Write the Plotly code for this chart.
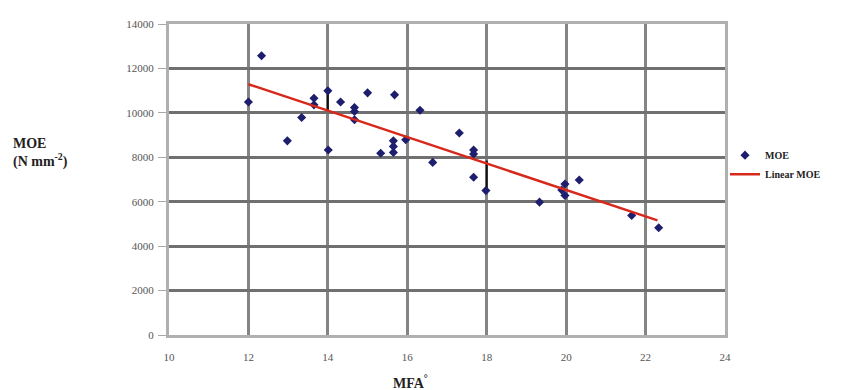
import plotly.graph_objects as go

# Data
mfa = [12.0, 12.33, 12.98, 13.34, 13.65, 13.65, 14.0, 14.01, 14.32, 14.67, 14.67, 14.67,
       15.0, 15.33, 15.65, 15.65, 15.65, 15.68, 15.96, 16.32, 16.64, 17.31, 17.67, 17.67,
       17.67, 17.98, 19.33, 19.89, 19.97, 19.97, 20.33, 21.65, 22.33]
moe = [10490, 12570, 8740, 9790, 10660, 10360, 10990, 8330, 10490, 10240, 10060, 9690,
       10900, 8180, 8740, 8490, 8220, 10810, 8790, 10120, 7770, 9090, 8330, 8150,
       7100, 6500, 5980, 6530, 6800, 6280, 6980, 5380, 4830]

trend_x = [12.0, 22.3]
trend_y = [11290, 5160]

# short black vertical marks seen at x=14 and x=18
bar_x = [14.0, 18.0]
bar_top = [11080, 7850]
bar_bottom = [10090, 6460]

x_ticks = [10, 12, 14, 16, 18, 20, 22, 24]
y_ticks = [0, 2000, 4000, 6000, 8000, 10000, 12000, 14000]

serif = "Liberation Serif, Times New Roman, serif"

fig = go.Figure()

seg_x, seg_y = [], []
for bx, t, b in zip(bar_x, bar_top, bar_bottom):
    seg_x += [bx, bx, None]
    seg_y += [t, b, None]
fig.add_trace(go.Scatter(x=seg_x, y=seg_y, mode="lines",
                         line=dict(color="#111111", width=2),
                         showlegend=False, hoverinfo="skip"))

fig.add_trace(go.Scatter(x=mfa, y=moe, mode="markers", name="MOE",
                         marker=dict(symbol="diamond", size=7, color="#1e1e6e")))

fig.add_trace(go.Scatter(x=trend_x, y=trend_y, mode="lines", name="Linear MOE",
                         line=dict(color="#d8281c", width=2.5)))

fig.update_layout(
    width=848, height=390,
    margin=dict(l=169, r=123, t=24, b=55, autoexpand=False),
    paper_bgcolor="white", plot_bgcolor="white",
    font=dict(family=serif, size=10, color="#555555"),
    legend=dict(x=1.0, y=0.625, xanchor="left", yanchor="top",
                font=dict(family=serif, size=10, color="#222222", weight="bold"),
                bgcolor="rgba(0,0,0,0)", tracegroupgap=0, itemwidth=30),
    xaxis=dict(range=[10, 24], tickvals=x_ticks, ticktext=[str(v) for v in x_ticks],
               showgrid=True, gridcolor="#858585", gridwidth=3,
               showline=True, linecolor="#b0b0b0", linewidth=3, mirror=True,
               zeroline=False, ticks="", ticklen=0, automargin=False,
               ticklabelstandoff=10,
               tickfont=dict(family=serif, size=11, color="#555555")),
    yaxis=dict(range=[0, 14000], tickvals=y_ticks, ticktext=[str(v) for v in y_ticks],
               showgrid=True, gridcolor="#707070", gridwidth=3,
               showline=True, linecolor="#b0b0b0", linewidth=3, mirror=True,
               zeroline=False, ticks="outside", ticklen=8, tickcolor="#aaaaaa",
               automargin=False, ticklabelstandoff=2,
               tickfont=dict(family=serif, size=11, color="#555555")),
    annotations=[
        dict(text="<b>MOE<br>(N mm<sup>-2</sup>)</b>", xref="paper", yref="paper",
             x=-0.285, y=0.585, xanchor="left", yanchor="middle", align="left",
             showarrow=False, font=dict(family=serif, size=14, color="#222222")),
        dict(text="<b>MFA<sup>°</sup></b>", xref="paper", yref="paper",
             x=0.435, y=-0.152, xanchor="center", yanchor="middle",
             showarrow=False, font=dict(family=serif, size=14, color="#222222")),
    ],
)

fig.write_html("out.html", post_script="document.body.style.margin='0px';",
               config={"displayModeBar": False})
